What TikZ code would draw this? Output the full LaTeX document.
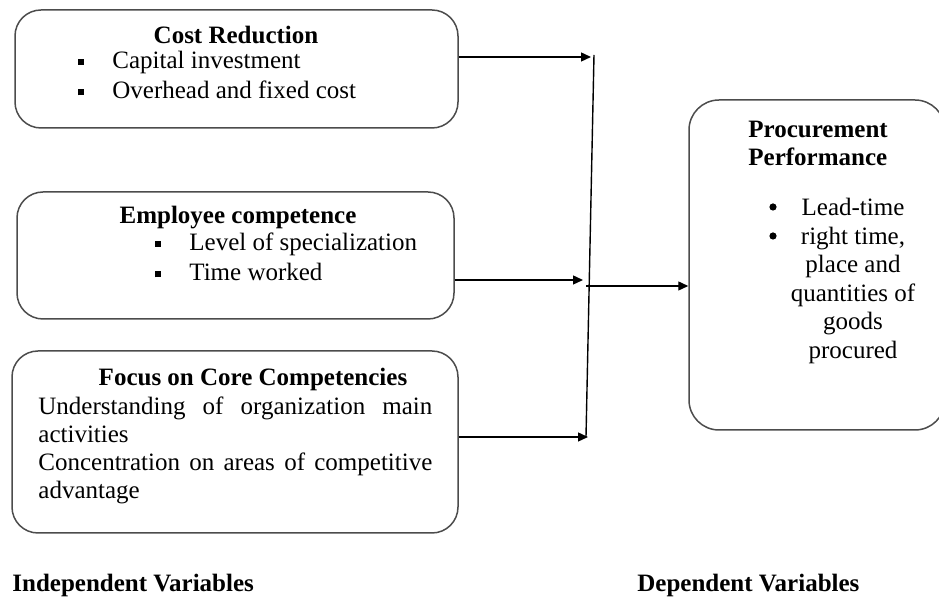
\documentclass[tikz,border=0pt]{standalone}
\usepackage{fontspec}
\setmainfont{Liberation Serif}
\usetikzlibrary{arrows.meta}

\newcommand{\sqbul}{\makebox[17pt][l]{\rule[1.6pt]{3pt}{3pt}}}

\tikzset{
  varbox/.style={draw=black!70, line width=0.75pt, rounded corners=13pt, inner sep=0pt},
  flow/.style={line width=0.7pt, -{Triangle[length=5pt,width=4.5pt]}},
  dot/.style={circle, fill=black, inner sep=0pt, minimum size=3.6pt},
  txt/.style={inner sep=0pt, font=\fontsize{12.5}{14}\selectfont},
  head/.style={inner sep=0pt, font=\fontsize{12.5}{14}\selectfont\bfseries},
}

\begin{document}
\begin{tikzpicture}[x=0.5pt,y=0.5pt,yscale=-1,xscale=1]
\useasboundingbox (0,0) rectangle (939,598);

%Shape: Rounded Rectangle [id:cost]
\node [varbox, minimum width=221.5pt, minimum height=59pt] (cost) at (236.5,69) {};
%Shape: Rounded Rectangle [id:staff]
\node [varbox, minimum width=218.5pt, minimum height=63.5pt] (staff) at (235.5,255.5) {};
%Shape: Rounded Rectangle [id:core]
\node [varbox, minimum width=223pt, minimum height=91pt] (core) at (235,442) {};
%Shape: Rounded Rectangle [id:perf]
\node [varbox, minimum width=128pt, minimum height=165pt, rounded corners=15pt] (perf) at (817,265) {};

%Junction points
\coordinate (jtop) at (594,55);
\coordinate (jbot) at (586,437);
\coordinate (jmid) at (586,286);
\coordinate (a1) at (591,57);
\coordinate (a2) at (583,280);
\coordinate (a3) at (588,437);

%Straight Lines
\draw [line width=0.7pt] (jtop) -- (jbot);
\draw [flow] (cost.east |- a1) -- (a1);
\draw [flow] (staff.east |- a2) -- (a2);
\draw [flow] (core.east |- a3) -- (a3);
\draw [flow] (jmid) -- (perf.west |- jmid);

% Text Node
\node [head] (costhd) at (236,35) {Cost Reduction};
% Text Node
\node [txt, anchor=west] (cost1) at (78,62) {\sqbul Capital investment};
% Text Node
\node [txt, anchor=west] (cost2) at (78,90) {\sqbul Overhead and fixed cost};

% Text Node
\node [head] (staffhd) at (238,218) {Employee competence};
% Text Node
\node [txt, anchor=west] (staff1) at (155,244) {\sqbul Level of specialization};
% Text Node
\node [txt, anchor=west] (staff2) at (155,272) {\sqbul Time worked};

% Text Node
\node [head] (corehd) at (253,379) {Focus on Core Competencies};
% Text Node
\node [txt, anchor=north west, text width=197pt, align=justify] (coretx) at (38,397)
  {\tolerance=10000\hyphenpenalty=10000 Understanding of organization main activities\par
   Concentration on areas of competitive advantage};

% Text Node
\node [head, anchor=north west, align=left] (perfhd) at (748,121) {Procurement\\Performance};
%Bullets
\node [dot] (perfb1) at (773,207) {};
\node [dot] (perfb2) at (773,236) {};
% Text Node
\node [txt, anchor=north, align=center, font=\fontsize{12.5}{14.25}\selectfont] (perftx) at (853,198)
  {Lead-time\\right time,\\place and\\quantities of\\goods\\procured};

% Text Node
\node [head, anchor=west] (indep) at (12,585) {Independent Variables};
% Text Node
\node [head, anchor=west] (dep) at (637,585) {Dependent Variables};

\end{tikzpicture}
\end{document}
